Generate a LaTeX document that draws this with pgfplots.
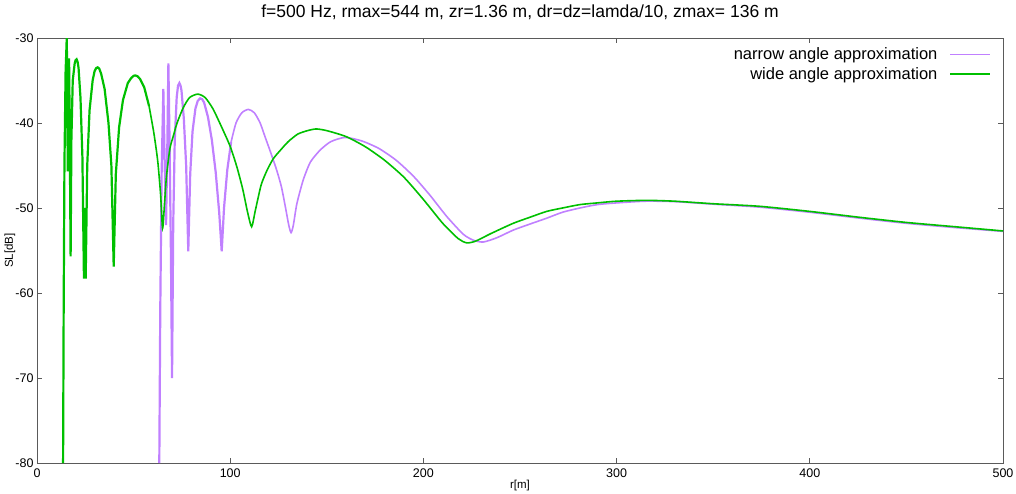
\documentclass[border=0pt]{standalone}
\usepackage{fontspec}
\setmainfont{Liberation Sans}
\usepackage{pgfplots}
\pgfplotsset{compat=1.18}
\definecolor{narrowc}{RGB}{192,128,255}
\definecolor{widec}{RGB}{0,192,0}
\definecolor{axc}{RGB}{90,90,90}
\pgfplotsset{
  mylegimg/.style={legend image code/.code={\draw[##1, line width=1.3pt] (0pt,0pt) -- (40pt,0pt);}},
}
\begin{document}
\begin{tikzpicture}
\useasboundingbox (-37pt,-30pt) rectangle (979pt,463pt);
\begin{axis}[
  at={(0,0)}, anchor=south west,
  scale only axis, width=966pt, height=425pt,
  xmin=0, xmax=500, ymin=-80, ymax=-30,
  xtick={0,100,...,500}, ytick={-80,-70,...,-30},
  tick align=inside, major tick length=5pt,
  axis line style={draw=axc, line width=1pt},
  every tick/.style={draw=axc, line width=0.8pt},
  /pgf/number format/assume math mode=true,
  tick label style={font=\fontsize{12.5}{14}\selectfont},
  xticklabel style={yshift=-2pt},
  title={f=500 Hz, rmax=544 m, zr=1.36 m, dr=dz=lamda/10, zmax= 136 m},
  title style={at={(axis description cs:0.5,1)}, anchor=base, yshift=15pt, font=\fontsize{17.5}{20}\selectfont},
  xlabel={r[m]}, ylabel={SL[dB]},
  xlabel style={at={(axis description cs:0.5,0)}, anchor=center, yshift=-23pt, font=\fontsize{11.5}{13}\selectfont},
  ylabel style={at={(axis description cs:-0.028,0.5)}, anchor=center, font=\fontsize{11.5}{13}\selectfont},
  legend plot pos=right,
  legend cell align=right,
  legend style={draw=white, fill=none, at={(axis description cs:0.9875,0.982)}, anchor=north east,
    font=\fontsize{16.5}{19}\selectfont, row sep=2pt, column sep=10pt, inner sep=0pt},
  mylegimg,
]
% narrow angle approximation
\addplot[draw=narrowc, line width=1.6pt, smooth, tension=0.4] coordinates {
(100.5,-42.2) (103,-40.0) (106,-38.8) (109.4,-38.4) (112.5,-38.8) (115.5,-40.0)
(118,-41.6) (121,-43.5) (124,-45.5) (126.5,-47.5) (128.5,-49.8) (130.3,-52.0)
(131.5,-52.9) (132.7,-52.0) (134.5,-49.5) (137.8,-46.7) (141.5,-44.6) (146.5,-43.2)
(152,-42.2) (159.4,-41.7) (168,-42.1) (177,-43.0) (186,-44.4) (195,-46.3)
(203.4,-48.5) (212.1,-51.0) (220.7,-53.1) (226,-53.8) (231,-54.0) (238,-53.5)
(246.5,-52.6) (255,-51.9) (263.8,-51.2) (272,-50.5) (281,-50.0) (290,-49.6)
(300,-49.4) (315,-49.2) (330,-49.25) (350,-49.55) (374,-49.9) (400,-50.5)
(426,-51.2) (450,-51.8) (475,-52.3) (500,-52.75)
};
\addlegendentry{narrow angle approximation}
\addplot[draw=narrowc, line width=2.2pt, forget plot] coordinates {
(63.3,-80) (63.8,-62) (64.5,-46) (65.4,-36) (66.1,-45) (66.8,-52) (67.5,-42)
(68.0,-33) (68.6,-42) (69.3,-55) (69.9,-70) (70.5,-52) (71.3,-42) (72.3,-37)
(73.0,-35.6) (73.7,-35.3) (74.3,-35.6) (74.8,-36.2) (76,-39.5) (77.2,-45) (78.3,-55.1) (79.3,-46)
(80.5,-41) (82,-38.3) (83.2,-37.4) (84.4,-37.1) (85.5,-37.2) (86.5,-37.6) (88.5,-39.3) (90.5,-42.0)
(92.5,-45.8) (94.3,-50.5) (95.6,-55.1) (96.8,-50) (98.5,-45.5) (100.5,-42.2)
};
% wide angle approximation
\addplot[draw=widec, line width=1.6pt, smooth, tension=0.4] coordinates {
(58,-38) (60.5,-41.2) (62.5,-44.5) (64,-48.5) (65,-52.4) (66,-49.5) (67,-46.3)
(68.8,-43) (70.6,-41.5) (72.5,-40.0) (75.7,-38.2) (79,-37.0) (83.2,-36.6)
(87,-37.0) (91,-38.3) (95,-40.2) (99.9,-42.7) (103.5,-45.2) (106.5,-47.8)
(109,-50.5) (111.1,-52.2) (113,-50.3) (116,-47.3) (119,-45.6) (122.3,-44.2)
(126,-43.2) (130,-42.2) (135,-41.3) (140,-40.9) (144.5,-40.7) (150,-40.9)
(160,-41.6) (170,-42.8) (180,-44.4) (190,-46.4) (200,-49.0) (210,-51.8)
(218,-53.6) (222.4,-54.1) (227,-53.9) (235,-53.0) (246.5,-51.8)
(255,-51.1) (263.8,-50.4) (272,-50.0) (281,-49.6) (290,-49.4) (300,-49.2)
(315.6,-49.1) (330,-49.2) (350,-49.5) (374,-49.8) (400,-50.4) (426,-51.1)
(450,-51.7) (475,-52.2) (500,-52.7)
};
\addlegendentry{wide angle approximation}
\addplot[draw=widec, line width=2.2pt, forget plot] coordinates {
(13.5,-80) (13.8,-62) (14.2,-45) (14.8,-34) (15.4,-30) (15.7,-36) (15.9,-45.7)
(16.2,-36) (16.6,-32.4) (16.9,-40) (17.4,-55.7) (17.8,-42) (18.5,-35) (19.5,-33)
(20.0,-32.6) (20.5,-32.5) (21.0,-32.8) (21.5,-33.5) (22.5,-37) (23.5,-44) (24.3,-58.3) (24.7,-50)
(25.2,-58.3) (26,-45) (27.2,-38.5) (28.8,-35) (29.8,-33.9) (30.6,-33.55) (31.4,-33.45) (32.2,-33.6)
(33.2,-34.2) (35,-36) (37,-40) (38.5,-45) (39.7,-56.9) (40.8,-46) (42.5,-40.5) (44.5,-37.3)
(47,-35.3) (48.8,-34.7) (50.0,-34.45) (50.9,-34.4) (52.0,-34.5) (53.3,-34.8) (55.5,-35.8) (58,-38)
};
\end{axis}
\end{tikzpicture}
\end{document}
